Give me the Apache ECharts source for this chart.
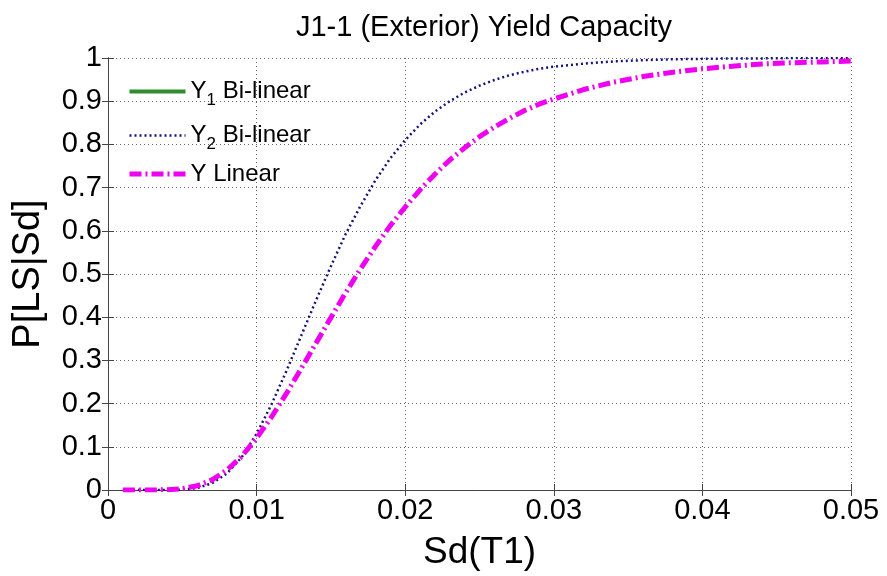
<!DOCTYPE html>
<html><head><meta charset="utf-8">
<script src="https://cdn.jsdelivr.net/npm/echarts@6/dist/echarts.min.js"></script>
<style>html,body{margin:0;padding:0;background:#fff}#c{width:887px;height:576px}</style>
</head><body><div id="c"></div>
<script>
const titleText = 'J1-1 (Exterior) Yield Capacity';
const sd = [0.001,0.002,0.003,0.004,0.005,0.006,0.007,0.008,0.009,0.010,0.011,0.012,0.013,0.014,0.015,0.016,0.017,0.018,0.019,0.020,0.021,0.022,0.023,0.024,0.025,0.026,0.027,0.028,0.029,0.030,0.032,0.034,0.036,0.038,0.040,0.042,0.044,0.046,0.048,0.050];
const y1BiLinear = [];
const y2BiLinear = [0,0,0,0.0001,0.0009,0.0047,0.0155,0.038,0.076,0.13,0.198,0.275,0.357,0.439,0.518,0.593,0.658,0.717,0.768,0.810,0.846,0.876,0.900,0.920,0.936,0.949,0.960,0.968,0.975,0.980,0.987,0.992,0.995,0.997,0.998,0.999,0.999,1,1,1];
const yLinear = [0,0,0.0001,0.0006,0.003,0.0097,0.0235,0.046,0.078,0.12,0.169,0.223,0.281,0.340,0.399,0.457,0.512,0.564,0.612,0.655,0.695,0.731,0.764,0.792,0.818,0.840,0.860,0.878,0.893,0.905,0.927,0.944,0.957,0.967,0.975,0.981,0.986,0.989,0.991,0.993];
const xTickLabels = ['0','0.01','0.02','0.03','0.04','0.05'];
const yTickLabels = ['0','0.1','0.2','0.3','0.4','0.5','0.6','0.7','0.8','0.9','1'];
const seriesNames = ['Y1 Bi-linear','Y2 Bi-linear','Y Linear'];

const pair = arr => arr.map((v,i)=>[sd[i], v]);
const F = "'Liberation Sans', Arial, sans-serif";
const axisColor = '#444';
const chart = echarts.init(document.getElementById('c'));
const baseAxis = {
  axisLine:{show:true,lineStyle:{color:axisColor,width:1}},
  axisTick:{show:true,inside:true,length:6,lineStyle:{color:axisColor}},
};
chart.setOption({
  animation:false,
  backgroundColor:'#fff',
  title:{text:titleText,left:479,textAlign:'center',top:8,textStyle:{fontFamily:F,fontSize:29,fontWeight:'normal',color:'#000'}},
  grid:{left:108,right:36,top:58,bottom:85},
  legend:{
    orient:'vertical',left:127,top:74,padding:0,itemWidth:56,itemHeight:14,itemGap:9,
    data:[
      {name:seriesNames[0],lineStyle:{width:4,color:'#2e8b2e'}},
      {name:seriesNames[1],lineStyle:{width:2.5,color:'#14147a',type:[2,3]}},
      {name:seriesNames[2],lineStyle:{width:5,color:'#f000f0',type:[12,4,2,4]}}
    ],
    itemStyle:{opacity:0},
    formatter:function(n){
      if(n==='Y1 Bi-linear') return '{a|Y}{s|1}{a| Bi-linear}';
      if(n==='Y2 Bi-linear') return '{a|Y}{s|2}{a| Bi-linear}';
      return '{a|Y Linear}';
    },
    textStyle:{fontFamily:F,fontSize:24,color:'#000',rich:{
      a:{fontFamily:F,fontSize:24,color:'#000',lineHeight:26},
      s:{fontFamily:F,fontSize:17,color:'#000',padding:[18,0,0,0],lineHeight:26}
    }}
  },
  xAxis:[
    Object.assign({},baseAxis,{type:'value',min:0,max:0.05,interval:0.01,
      axisLabel:{fontFamily:F,fontSize:29,color:'#000',margin:6,formatter:(v,i)=>xTickLabels[Math.round(v/0.01)]},
      splitLine:{show:true,lineStyle:{color:'#666',type:[1,3],width:1}},
      name:'Sd(T1)',nameLocation:'middle',nameGap:44,nameTextStyle:{fontFamily:F,fontSize:37,color:'#000'}}),
    Object.assign({},baseAxis,{type:'value',position:'top',min:0,max:0.05,interval:0.01,axisLabel:{show:false},splitLine:{show:false}})
  ],
  yAxis:[
    Object.assign({},baseAxis,{type:'value',min:0,max:1,interval:0.1,
      axisLabel:{fontFamily:F,fontSize:29,color:'#000',margin:6,formatter:(v)=>yTickLabels[Math.round(v*10)]},
      splitLine:{show:true,lineStyle:{color:'#666',type:[1,3],width:1}},
      name:'P[LS|Sd]',nameLocation:'middle',nameGap:60,nameTextStyle:{fontFamily:F,fontSize:38,color:'#000'}}),
    Object.assign({},baseAxis,{type:'value',position:'right',min:0,max:1,interval:0.1,axisLabel:{show:false},splitLine:{show:false}})
  ],
  series:[
    {name:seriesNames[0],type:'line',data:pair(y1BiLinear),showSymbol:false,symbol:'none',lineStyle:{color:'#2e8b2e',width:4},itemStyle:{color:'#2e8b2e'}},
    {name:seriesNames[1],type:'line',data:pair(y2BiLinear),showSymbol:false,symbol:'none',smooth:false,lineStyle:{color:'#14147a',width:2.5,type:[2,3]},itemStyle:{color:'#14147a'}},
    {name:seriesNames[2],type:'line',data:pair(yLinear),showSymbol:false,symbol:'none',smooth:false,lineStyle:{color:'#f000f0',width:5,type:[12,4,2,4]},itemStyle:{color:'#f000f0'}}
  ]
});
</script></body></html>
